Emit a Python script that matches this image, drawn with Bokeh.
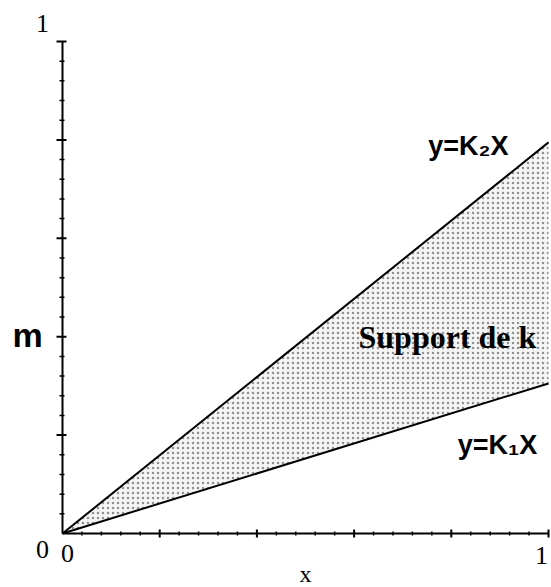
from bokeh.plotting import figure
from bokeh.models import Range1d, Label
from bokeh.embed import file_html
from bokeh.resources import INLINE

# Boundary lines of the support of k (y = k1*x and y = k2*x), sampled at x = 0 and x = 1
x_pts = [0.0, 1.0]
upper_y = [0.0, 0.795]   # y = k2 x
lower_y = [0.0, 0.305]   # y = k1 x

major_ticks = [0.0, 0.2, 0.4, 0.6, 0.8, 1.0]
minor_ticks = [0.04, 0.08, 0.12, 0.16, 0.24, 0.28, 0.32, 0.36, 0.44, 0.48, 0.52, 0.56,
               0.64, 0.68, 0.72, 0.76, 0.84, 0.88, 0.92, 0.96]

W, H = 551, 587
LEFT, RIGHT, TOP, BOTTOM = 62, 3, 41, 54          # margins around the unit square, px
SX = (W - LEFT - RIGHT)                            # px per data unit along x
SY = (H - TOP - BOTTOM)                            # px per data unit along y

p = figure(width=W, height=H, output_backend="svg", toolbar_location=None,
           x_axis_type=None, y_axis_type=None,
           x_range=Range1d(-LEFT / SX, 1 + RIGHT / SX),
           y_range=Range1d(-BOTTOM / SY, 1 + TOP / SY),
           min_border=0)
p.outline_line_color = None
p.grid.visible = False
p.background_fill_color = "white"
p.border_fill_color = "white"

# Shaded support region between the two lines
p.varea(x=x_pts, y1=lower_y, y2=upper_y, fill_color="#f5f5f5",
        hatch_pattern="dot", hatch_scale=5, hatch_color="#5a5a5a", hatch_weight=1, hatch_alpha=0.65)

p.line(x_pts, upper_y, line_color="black", line_width=2)
p.line(x_pts, lower_y, line_color="black", line_width=2)

# Axis lines
p.segment(x0=[0, 0], y0=[0, 0], x1=[1, 0], y1=[0, 1], line_color="black", line_width=2)

# Tick marks (lengths given in px, converted to data units)
def ticks_x(vals, t_out, t_in, width):
    p.segment(x0=vals, y0=[-t_out / SY] * len(vals), x1=vals, y1=[t_in / SY] * len(vals),
              line_color="black", line_width=width)

def ticks_y(vals, t_out, t_in, width):
    p.segment(x0=[-t_out / SX] * len(vals), y0=vals, x1=[t_in / SX] * len(vals), y1=vals,
              line_color="black", line_width=width)

ticks_x(major_ticks[1:], 4, 4, 2)
ticks_x(minor_ticks, 2, 2, 1.5)
ticks_y(major_ticks[1:], 6, 4, 2)
ticks_y(minor_ticks, 3, 2, 1.5)

serif = "Liberation Serif"
sans = "Liberation Sans"

def add_label(x, y, text, dx, dy, font, size, style="normal"):
    p.add_layout(Label(x=x, y=y, x_offset=dx, y_offset=dy, text=text,
                       text_font=font, text_font_size=size, text_font_style=style,
                       text_color="black", text_align="center", text_baseline="middle"))

# Tick values
add_label(0, 0, "0", -20, -16, serif, "26px")
add_label(0, 0, "0", 5, -20, serif, "26px")
add_label(1, 0, "1", -7, -22, serif, "26px")
add_label(0, 1, "1", -20, 18, serif, "26px")

# Axis names
add_label(0.5, 0, "x", 0, -40, serif, "24px")
add_label(0, 0.4, "m", -35, 2, sans, "34px", "bold")

# Annotations
add_label(0.835, 0.787, "y=K\u2082X", 0, 0, sans, "27px", "bold")
add_label(0.895, 0.179, "y=K\u2081X", 0, 0, sans, "27px", "bold")
add_label(0.792, 0.40, "Support de k", 0, 0, serif, "32px", "bold")

open("out.html", "w").write(file_html(p, INLINE))
